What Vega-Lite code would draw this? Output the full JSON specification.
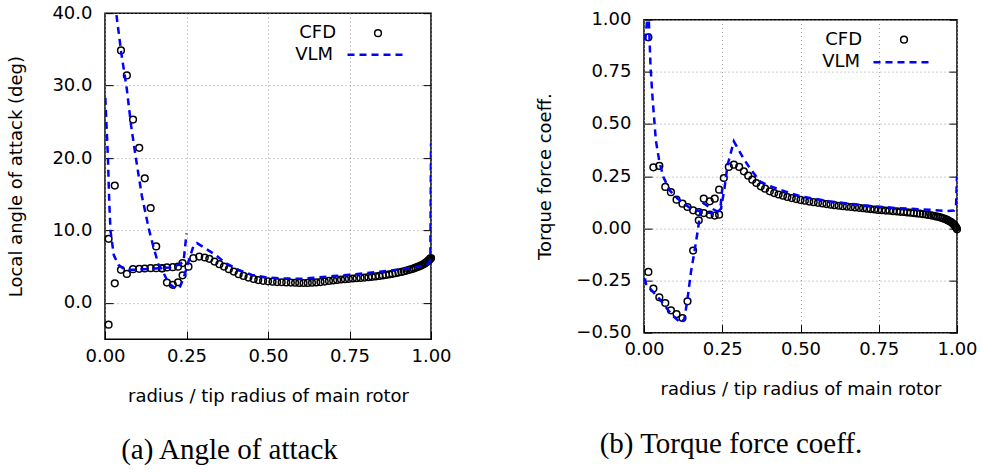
{
  "$schema": "https://vega.github.io/schema/vega-lite/v6.json",
  "background": "white",
  "padding": {"left": 7, "top": 3, "right": 5, "bottom": 5},
  "spacing": 84,
  "center": true,
  "datasets": {
    "aoa": [
      {"x":0.011,"y":-3.0,"s":"CFD","b":"C"},{"x":0.011,"y":8.85,"s":"CFD","b":"C"},
      {"x":0.030,"y":2.7,"s":"CFD","b":"C"},{"x":0.030,"y":16.2,"s":"CFD","b":"C"},
      {"x":0.049,"y":34.85,"s":"CFD","b":"C"},{"x":0.049,"y":4.56,"s":"CFD","b":"C"},
      {"x":0.067,"y":31.4,"s":"CFD","b":"C"},{"x":0.067,"y":4.0,"s":"CFD","b":"C"},
      {"x":0.086,"y":25.3,"s":"CFD","b":"C"},{"x":0.086,"y":4.65,"s":"CFD","b":"C"},
      {"x":0.105,"y":21.4,"s":"CFD","b":"C"},{"x":0.105,"y":4.7,"s":"CFD","b":"C"},
      {"x":0.122,"y":17.2,"s":"CFD","b":"C"},{"x":0.122,"y":4.75,"s":"CFD","b":"C"},
      {"x":0.140,"y":13.1,"s":"CFD","b":"C"},{"x":0.140,"y":4.8,"s":"CFD","b":"C"},
      {"x":0.157,"y":7.8,"s":"CFD","b":"C"},{"x":0.157,"y":4.8,"s":"CFD","b":"C"},
      {"x":0.175,"y":4.8,"s":"CFD","b":"C"},{"x":0.175,"y":4.75,"s":"CFD","b":"C"},
      {"x":0.190,"y":2.8,"s":"CFD","b":"C"},{"x":0.190,"y":4.9,"s":"CFD","b":"C"},
      {"x":0.208,"y":2.5,"s":"CFD","b":"C"},{"x":0.208,"y":4.93,"s":"CFD","b":"C"},
      {"x":0.224,"y":2.85,"s":"CFD","b":"C"},{"x":0.224,"y":5.0,"s":"CFD","b":"C"},
      {"x":0.238,"y":3.8,"s":"CFD","b":"C"},{"x":0.238,"y":5.5,"s":"CFD","b":"C"},
      {"x":0.256,"y":5.0,"s":"CFD","b":"C"},{"x":0.271,"y":6.17,"s":"CFD","b":"C"},
      {"x":0.289,"y":6.4,"s":"CFD","b":"C"},{"x":0.306,"y":6.27,"s":"CFD","b":"C"},
      {"x":0.320,"y":6.08,"s":"CFD","b":"C"},{"x":0.336,"y":5.7,"s":"CFD","b":"C"},
      {"x":0.351,"y":5.34,"s":"CFD","b":"C"},{"x":0.365,"y":5.02,"s":"CFD","b":"C"},
      {"x":0.380,"y":4.65,"s":"CFD","b":"C"},{"x":0.395,"y":4.33,"s":"CFD","b":"C"},
      {"x":0.410,"y":3.96,"s":"CFD","b":"C"},{"x":0.425,"y":3.73,"s":"CFD","b":"C"},
      {"x":0.440,"y":3.5,"s":"CFD","b":"C"},{"x":0.456,"y":3.3,"s":"CFD","b":"C"},
      {"x":0.470,"y":3.15,"s":"CFD","b":"C"},{"x":0.485,"y":3.05,"s":"CFD","b":"C"},
      {"x":0.500,"y":2.98,"s":"CFD","b":"C"},{"x":0.514,"y":2.93,"s":"CFD","b":"C"},
      {"x":0.528,"y":2.88,"s":"CFD","b":"C"},{"x":0.542,"y":2.85,"s":"CFD","b":"C"},
      {"x":0.556,"y":2.82,"s":"CFD","b":"C"},{"x":0.570,"y":2.8,"s":"CFD","b":"C"},
      {"x":0.583,"y":2.78,"s":"CFD","b":"C"},{"x":0.596,"y":2.76,"s":"CFD","b":"C"},
      {"x":0.609,"y":2.75,"s":"CFD","b":"C"},{"x":0.622,"y":2.76,"s":"CFD","b":"C"},
      {"x":0.635,"y":2.78,"s":"CFD","b":"C"},{"x":0.648,"y":2.82,"s":"CFD","b":"C"},
      {"x":0.661,"y":2.88,"s":"CFD","b":"C"},{"x":0.674,"y":2.95,"s":"CFD","b":"C"},
      {"x":0.687,"y":3.03,"s":"CFD","b":"C"},{"x":0.700,"y":3.1,"s":"CFD","b":"C"},
      {"x":0.712,"y":3.17,"s":"CFD","b":"C"},{"x":0.724,"y":3.23,"s":"CFD","b":"C"},
      {"x":0.736,"y":3.28,"s":"CFD","b":"C"},{"x":0.748,"y":3.33,"s":"CFD","b":"C"},
      {"x":0.760,"y":3.37,"s":"CFD","b":"C"},{"x":0.772,"y":3.41,"s":"CFD","b":"C"},
      {"x":0.784,"y":3.45,"s":"CFD","b":"C"},{"x":0.796,"y":3.5,"s":"CFD","b":"C"},
      {"x":0.808,"y":3.55,"s":"CFD","b":"C"},{"x":0.819,"y":3.6,"s":"CFD","b":"C"},
      {"x":0.830,"y":3.66,"s":"CFD","b":"C"},{"x":0.841,"y":3.72,"s":"CFD","b":"C"},
      {"x":0.852,"y":3.79,"s":"CFD","b":"C"},{"x":0.862,"y":3.86,"s":"CFD","b":"C"},
      {"x":0.872,"y":3.94,"s":"CFD","b":"C"},{"x":0.882,"y":4.02,"s":"CFD","b":"C"},
      {"x":0.891,"y":4.1,"s":"CFD","b":"C"},{"x":0.900,"y":4.19,"s":"CFD","b":"C"},
      {"x":0.909,"y":4.28,"s":"CFD","b":"C"},{"x":0.917,"y":4.37,"s":"CFD","b":"C"},
      {"x":0.925,"y":4.46,"s":"CFD","b":"C"},{"x":0.933,"y":4.56,"s":"CFD","b":"C"},
      {"x":0.940,"y":4.66,"s":"CFD","b":"C"},{"x":0.947,"y":4.76,"s":"CFD","b":"C"},
      {"x":0.953,"y":4.86,"s":"CFD","b":"C"},{"x":0.959,"y":4.96,"s":"CFD","b":"C"},
      {"x":0.965,"y":5.07,"s":"CFD","b":"C"},{"x":0.970,"y":5.18,"s":"CFD","b":"C"},
      {"x":0.975,"y":5.3,"s":"CFD","b":"C"},{"x":0.980,"y":5.42,"s":"CFD","b":"C"},
      {"x":0.984,"y":5.55,"s":"CFD","b":"C"},{"x":0.988,"y":5.68,"s":"CFD","b":"C"},
      {"x":0.991,"y":5.8,"s":"CFD","b":"C"},{"x":0.994,"y":5.92,"s":"CFD","b":"C"},
      {"x":0.996,"y":6.02,"s":"CFD","b":"C"},{"x":0.998,"y":6.1,"s":"CFD","b":"C"},
      {"x":1.0,"y":6.2,"s":"CFD","b":"C"},
      {"x":0.025,"y":48,"s":"VLM","b":"A"},{"x":0.035,"y":39.8,"s":"VLM","b":"A"},
      {"x":0.050,"y":34.5,"s":"VLM","b":"A"},{"x":0.067,"y":29.5,"s":"VLM","b":"A"},
      {"x":0.080,"y":24.5,"s":"VLM","b":"A"},{"x":0.093,"y":20.5,"s":"VLM","b":"A"},
      {"x":0.113,"y":14.8,"s":"VLM","b":"A"},{"x":0.134,"y":10.3,"s":"VLM","b":"A"},
      {"x":0.147,"y":8.0,"s":"VLM","b":"A"},{"x":0.164,"y":5.3,"s":"VLM","b":"A"},
      {"x":0.175,"y":4.6,"s":"VLM","b":"A"},{"x":0.195,"y":2.7,"s":"VLM","b":"A"},
      {"x":0.216,"y":2.0,"s":"VLM","b":"A"},{"x":0.228,"y":2.0,"s":"VLM","b":"A"},
      {"x":0.241,"y":3.4,"s":"VLM","b":"A"},{"x":0.256,"y":5.7,"s":"VLM","b":"A"},
      {"x":0.271,"y":7.8,"s":"VLM","b":"A"},{"x":0.282,"y":8.25,"s":"VLM","b":"A"},
      {"x":0.307,"y":7.55,"s":"VLM","b":"A"},{"x":0.340,"y":6.6,"s":"VLM","b":"A"},
      {"x":0.370,"y":5.5,"s":"VLM","b":"A"},{"x":0.410,"y":4.56,"s":"VLM","b":"A"},
      {"x":0.451,"y":3.87,"s":"VLM","b":"A"},{"x":0.492,"y":3.55,"s":"VLM","b":"A"},
      {"x":0.532,"y":3.4,"s":"VLM","b":"A"},{"x":0.573,"y":3.35,"s":"VLM","b":"A"},
      {"x":0.610,"y":3.35,"s":"VLM","b":"A"},{"x":0.650,"y":3.5,"s":"VLM","b":"A"},
      {"x":0.700,"y":3.7,"s":"VLM","b":"A"},{"x":0.750,"y":3.9,"s":"VLM","b":"A"},
      {"x":0.800,"y":4.1,"s":"VLM","b":"A"},{"x":0.850,"y":4.35,"s":"VLM","b":"A"},
      {"x":0.900,"y":4.6,"s":"VLM","b":"A"},{"x":0.950,"y":4.9,"s":"VLM","b":"A"},
      {"x":0.985,"y":5.2,"s":"VLM","b":"A"},{"x":0.995,"y":5.6,"s":"VLM","b":"A"},
      {"x":0.998,"y":6.0,"s":"VLM","b":"A"},{"x":1.0,"y":22.0,"s":"VLM","b":"A"},
      {"x":0.001,"y":28.3,"s":"VLM","b":"B"},{"x":0.009,"y":20.0,"s":"VLM","b":"B"},
      {"x":0.013,"y":14.0,"s":"VLM","b":"B"},{"x":0.017,"y":9.9,"s":"VLM","b":"B"},
      {"x":0.027,"y":6.6,"s":"VLM","b":"B"},{"x":0.041,"y":5.25,"s":"VLM","b":"B"},
      {"x":0.062,"y":4.56,"s":"VLM","b":"B"},{"x":0.100,"y":4.6,"s":"VLM","b":"B"},
      {"x":0.150,"y":4.75,"s":"VLM","b":"B"},{"x":0.200,"y":4.9,"s":"VLM","b":"B"},
      {"x":0.226,"y":5.25,"s":"VLM","b":"B"},{"x":0.241,"y":5.7,"s":"VLM","b":"B"},
      {"x":0.250,"y":9.6,"s":"VLM","b":"B"}
    ],
    "tq": [
      {"x":0.014,"y":0.915,"s":"CFD","b":"C"},{"x":0.014,"y":-0.209,"s":"CFD","b":"C"},
      {"x":0.030,"y":0.292,"s":"CFD","b":"C"},{"x":0.030,"y":-0.289,"s":"CFD","b":"C"},
      {"x":0.049,"y":0.299,"s":"CFD","b":"C"},{"x":0.049,"y":-0.331,"s":"CFD","b":"C"},
      {"x":0.068,"y":0.198,"s":"CFD","b":"C"},{"x":0.068,"y":-0.358,"s":"CFD","b":"C"},
      {"x":0.086,"y":0.173,"s":"CFD","b":"C"},{"x":0.086,"y":-0.393,"s":"CFD","b":"C"},
      {"x":0.104,"y":0.137,"s":"CFD","b":"C"},{"x":0.104,"y":-0.411,"s":"CFD","b":"C"},
      {"x":0.123,"y":0.118,"s":"CFD","b":"C"},{"x":0.123,"y":-0.430,"s":"CFD","b":"C"},
      {"x":0.139,"y":0.102,"s":"CFD","b":"C"},{"x":0.139,"y":-0.350,"s":"CFD","b":"C"},
      {"x":0.157,"y":0.086,"s":"CFD","b":"C"},{"x":0.157,"y":-0.107,"s":"CFD","b":"C"},
      {"x":0.175,"y":0.078,"s":"CFD","b":"C"},{"x":0.175,"y":0.038,"s":"CFD","b":"C"},
      {"x":0.191,"y":0.073,"s":"CFD","b":"C"},{"x":0.191,"y":0.142,"s":"CFD","b":"C"},
      {"x":0.210,"y":0.065,"s":"CFD","b":"C"},{"x":0.210,"y":0.129,"s":"CFD","b":"C"},
      {"x":0.226,"y":0.061,"s":"CFD","b":"C"},{"x":0.226,"y":0.142,"s":"CFD","b":"C"},
      {"x":0.240,"y":0.065,"s":"CFD","b":"C"},{"x":0.240,"y":0.185,"s":"CFD","b":"C"},
      {"x":0.255,"y":0.241,"s":"CFD","b":"C"},{"x":0.271,"y":0.294,"s":"CFD","b":"C"},
      {"x":0.287,"y":0.305,"s":"CFD","b":"C"},{"x":0.304,"y":0.294,"s":"CFD","b":"C"},
      {"x":0.319,"y":0.273,"s":"CFD","b":"C"},{"x":0.333,"y":0.252,"s":"CFD","b":"C"},
      {"x":0.346,"y":0.233,"s":"CFD","b":"C"},{"x":0.359,"y":0.217,"s":"CFD","b":"C"},
      {"x":0.373,"y":0.201,"s":"CFD","b":"C"},{"x":0.387,"y":0.19,"s":"CFD","b":"C"},
      {"x":0.402,"y":0.177,"s":"CFD","b":"C"},{"x":0.416,"y":0.169,"s":"CFD","b":"C"},
      {"x":0.430,"y":0.162,"s":"CFD","b":"C"},{"x":0.444,"y":0.156,"s":"CFD","b":"C"},
      {"x":0.458,"y":0.15,"s":"CFD","b":"C"},{"x":0.472,"y":0.145,"s":"CFD","b":"C"},
      {"x":0.486,"y":0.14,"s":"CFD","b":"C"},{"x":0.500,"y":0.136,"s":"CFD","b":"C"},
      {"x":0.514,"y":0.132,"s":"CFD","b":"C"},{"x":0.528,"y":0.128,"s":"CFD","b":"C"},
      {"x":0.542,"y":0.125,"s":"CFD","b":"C"},{"x":0.556,"y":0.122,"s":"CFD","b":"C"},
      {"x":0.570,"y":0.119,"s":"CFD","b":"C"},{"x":0.583,"y":0.116,"s":"CFD","b":"C"},
      {"x":0.596,"y":0.113,"s":"CFD","b":"C"},{"x":0.609,"y":0.111,"s":"CFD","b":"C"},
      {"x":0.622,"y":0.108,"s":"CFD","b":"C"},{"x":0.635,"y":0.106,"s":"CFD","b":"C"},
      {"x":0.648,"y":0.104,"s":"CFD","b":"C"},{"x":0.661,"y":0.102,"s":"CFD","b":"C"},
      {"x":0.674,"y":0.1,"s":"CFD","b":"C"},{"x":0.687,"y":0.098,"s":"CFD","b":"C"},
      {"x":0.700,"y":0.096,"s":"CFD","b":"C"},{"x":0.712,"y":0.094,"s":"CFD","b":"C"},
      {"x":0.724,"y":0.092,"s":"CFD","b":"C"},{"x":0.736,"y":0.09,"s":"CFD","b":"C"},
      {"x":0.748,"y":0.088,"s":"CFD","b":"C"},{"x":0.760,"y":0.087,"s":"CFD","b":"C"},
      {"x":0.772,"y":0.085,"s":"CFD","b":"C"},{"x":0.784,"y":0.084,"s":"CFD","b":"C"},
      {"x":0.796,"y":0.082,"s":"CFD","b":"C"},{"x":0.808,"y":0.081,"s":"CFD","b":"C"},
      {"x":0.819,"y":0.079,"s":"CFD","b":"C"},{"x":0.830,"y":0.078,"s":"CFD","b":"C"},
      {"x":0.841,"y":0.076,"s":"CFD","b":"C"},{"x":0.852,"y":0.075,"s":"CFD","b":"C"},
      {"x":0.862,"y":0.073,"s":"CFD","b":"C"},{"x":0.872,"y":0.071,"s":"CFD","b":"C"},
      {"x":0.882,"y":0.07,"s":"CFD","b":"C"},{"x":0.891,"y":0.068,"s":"CFD","b":"C"},
      {"x":0.900,"y":0.066,"s":"CFD","b":"C"},{"x":0.909,"y":0.064,"s":"CFD","b":"C"},
      {"x":0.917,"y":0.062,"s":"CFD","b":"C"},{"x":0.925,"y":0.06,"s":"CFD","b":"C"},
      {"x":0.933,"y":0.057,"s":"CFD","b":"C"},{"x":0.940,"y":0.055,"s":"CFD","b":"C"},
      {"x":0.947,"y":0.052,"s":"CFD","b":"C"},{"x":0.953,"y":0.049,"s":"CFD","b":"C"},
      {"x":0.959,"y":0.046,"s":"CFD","b":"C"},{"x":0.965,"y":0.043,"s":"CFD","b":"C"},
      {"x":0.970,"y":0.039,"s":"CFD","b":"C"},{"x":0.975,"y":0.035,"s":"CFD","b":"C"},
      {"x":0.980,"y":0.031,"s":"CFD","b":"C"},{"x":0.984,"y":0.026,"s":"CFD","b":"C"},
      {"x":0.988,"y":0.021,"s":"CFD","b":"C"},{"x":0.991,"y":0.016,"s":"CFD","b":"C"},
      {"x":0.994,"y":0.011,"s":"CFD","b":"C"},{"x":0.996,"y":0.006,"s":"CFD","b":"C"},
      {"x":0.998,"y":0.002,"s":"CFD","b":"C"},{"x":1.0,"y":-0.005,"s":"CFD","b":"C"},
      {"x":0.004,"y":0.9,"s":"VLM","b":"A"},{"x":0.014,"y":1.06,"s":"VLM","b":"A"},
      {"x":0.021,"y":0.77,"s":"VLM","b":"A"},{"x":0.028,"y":0.61,"s":"VLM","b":"A"},
      {"x":0.038,"y":0.42,"s":"VLM","b":"A"},{"x":0.049,"y":0.32,"s":"VLM","b":"A"},
      {"x":0.062,"y":0.245,"s":"VLM","b":"A"},{"x":0.083,"y":0.18,"s":"VLM","b":"A"},
      {"x":0.107,"y":0.142,"s":"VLM","b":"A"},{"x":0.150,"y":0.094,"s":"VLM","b":"A"},
      {"x":0.187,"y":0.078,"s":"VLM","b":"A"},{"x":0.230,"y":0.07,"s":"VLM","b":"A"},
      {"x":0.246,"y":0.094,"s":"VLM","b":"A"},{"x":0.257,"y":0.19,"s":"VLM","b":"A"},
      {"x":0.267,"y":0.303,"s":"VLM","b":"A"},{"x":0.287,"y":0.417,"s":"VLM","b":"A"},
      {"x":0.317,"y":0.337,"s":"VLM","b":"A"},{"x":0.338,"y":0.289,"s":"VLM","b":"A"},
      {"x":0.370,"y":0.225,"s":"VLM","b":"A"},{"x":0.391,"y":0.209,"s":"VLM","b":"A"},
      {"x":0.434,"y":0.185,"s":"VLM","b":"A"},{"x":0.500,"y":0.153,"s":"VLM","b":"A"},
      {"x":0.593,"y":0.129,"s":"VLM","b":"A"},{"x":0.699,"y":0.11,"s":"VLM","b":"A"},
      {"x":0.806,"y":0.097,"s":"VLM","b":"A"},{"x":0.912,"y":0.089,"s":"VLM","b":"A"},
      {"x":0.965,"y":0.083,"s":"VLM","b":"A"},{"x":0.990,"y":0.085,"s":"VLM","b":"A"},
      {"x":0.997,"y":0.11,"s":"VLM","b":"A"},{"x":1.0,"y":0.249,"s":"VLM","b":"A"},
      {"x":0.003,"y":-0.24,"s":"VLM","b":"B"},{"x":0.006,"y":-0.266,"s":"VLM","b":"B"},
      {"x":0.049,"y":-0.338,"s":"VLM","b":"B"},{"x":0.091,"y":-0.418,"s":"VLM","b":"B"},
      {"x":0.118,"y":-0.454,"s":"VLM","b":"B"},{"x":0.129,"y":-0.435,"s":"VLM","b":"B"},
      {"x":0.139,"y":-0.338,"s":"VLM","b":"B"},{"x":0.150,"y":-0.21,"s":"VLM","b":"B"},
      {"x":0.161,"y":-0.114,"s":"VLM","b":"B"},{"x":0.171,"y":-0.018,"s":"VLM","b":"B"},
      {"x":0.182,"y":0.094,"s":"VLM","b":"B"},{"x":0.190,"y":0.12,"s":"VLM","b":"B"},
      {"x":0.210,"y":0.1,"s":"VLM","b":"B"},{"x":0.235,"y":0.08,"s":"VLM","b":"B"},
      {"x":0.245,"y":0.11,"s":"VLM","b":"B"},{"x":0.250,"y":0.19,"s":"VLM","b":"B"}
    ]
  },
  "hconcat": [
    {
      "width": 326, "height": 326,
      "data": {"name": "aoa"},
      "title": {"text": "(a) Angle of attack", "orient": "bottom", "anchor": "middle", "frame": "bounds", "offset": 31, "font": "Liberation Serif", "fontSize": 29, "fontWeight": "normal", "color": "#000"},
      "layer": [
        {
          "transform": [{"filter": "datum.s === 'CFD'"}],
          "mark": {"type": "point", "filled": false, "size": 45, "strokeWidth": 1.5, "opacity": 1, "color": "#000000"},
          "encoding": {
            "x": {"field": "x", "type": "quantitative", "scale": {"domain": [0, 1], "nice": false, "zero": false},
                  "axis": {"values": [0, 0.25, 0.5, 0.75, 1], "format": ".2f", "title": "radius / tip radius of main rotor", "titlePadding": 22}},
            "y": {"field": "y", "type": "quantitative", "scale": {"domain": [-5, 40], "nice": false, "zero": false},
                  "axis": {"orient": "left", "values": [0, 10, 20, 30, 40], "format": ".1f", "title": "Local angle of attack (deg)", "titlePadding": 26}},
            "shape": {"field": "s", "type": "nominal", "scale": {"domain": ["CFD"], "range": ["circle"]},
                      "legend": {"orient": "none", "legendX": 264, "legendY": 11, "title": null, "padding": 0,
                                 "labelAlign": "right", "labelOffset": -51, "labelFontSize": 18, "labelFont": "DejaVu Sans", "labelColor": "#000",
                                 "symbolSize": 45, "symbolStrokeWidth": 1.5, "symbolStrokeColor": "#000000", "symbolFillColor": "transparent"}}
          }
        },
        {
          "transform": [{"filter": "datum.s === 'VLM'"}],
          "mark": {"type": "line", "clip": true, "strokeWidth": 2.5, "color": "#0000ff"},
          "encoding": {
            "x": {"field": "x", "type": "quantitative"},
            "y": {"field": "y", "type": "quantitative",
                  "axis": {"orient": "right", "values": [0, 10, 20, 30, 40], "labels": false, "title": null, "grid": false}},
            "strokeDash": {"field": "s", "type": "nominal", "scale": {"domain": ["VLM"], "range": [[7, 5]]},
                           "legend": {"orient": "none", "legendX": 241, "legendY": 11, "title": null, "padding": 0,
                                      "labelAlign": "right", "labelOffset": -74, "labelFontSize": 18, "labelFont": "DejaVu Sans", "labelColor": "#000",
                                      "symbolType": "stroke", "symbolSize": 3364, "symbolStrokeWidth": 2.5, "symbolStrokeColor": "#0000ff"}},
            "detail": {"field": "b", "type": "nominal"}
          }
        }
      ],
      "resolve": {"axis": {"y": "independent"}}
    },
    {
      "width": 313, "height": 313,
      "data": {"name": "tq"},
      "title": {"text": "(b) Torque force coeff.", "orient": "bottom", "anchor": "middle", "frame": "bounds", "offset": 31, "dx": -26, "font": "Liberation Serif", "fontSize": 29, "fontWeight": "normal", "color": "#000"},
      "layer": [
        {
          "transform": [{"filter": "datum.s === 'CFD'"}],
          "mark": {"type": "point", "filled": false, "size": 45, "strokeWidth": 1.5, "opacity": 1, "color": "#000000"},
          "encoding": {
            "x": {"field": "x", "type": "quantitative", "scale": {"domain": [0, 1], "nice": false, "zero": false},
                  "axis": {"values": [0, 0.25, 0.5, 0.75, 1], "format": ".2f", "title": "radius / tip radius of main rotor", "titlePadding": 22}},
            "y": {"field": "y", "type": "quantitative", "scale": {"domain": [-0.5, 1], "nice": false, "zero": false},
                  "axis": {"orient": "left", "values": [-0.5, -0.25, 0, 0.25, 0.5, 0.75, 1], "format": ".2f", "title": "Torque force coeff.", "titlePadding": 21}},
            "shape": {"field": "s", "type": "nominal", "scale": {"domain": ["CFD"], "range": ["circle"]},
                      "legend": {"orient": "none", "legendX": 251, "legendY": 11, "title": null, "padding": 0,
                                 "labelAlign": "right", "labelOffset": -51, "labelFontSize": 18, "labelFont": "DejaVu Sans", "labelColor": "#000",
                                 "symbolSize": 45, "symbolStrokeWidth": 1.5, "symbolStrokeColor": "#000000", "symbolFillColor": "transparent"}}
          }
        },
        {
          "transform": [{"filter": "datum.s === 'VLM'"}],
          "mark": {"type": "line", "clip": true, "strokeWidth": 2.5, "color": "#0000ff"},
          "encoding": {
            "x": {"field": "x", "type": "quantitative"},
            "y": {"field": "y", "type": "quantitative",
                  "axis": {"orient": "right", "values": [-0.5, -0.25, 0, 0.25, 0.5, 0.75, 1], "labels": false, "title": null, "grid": false}},
            "strokeDash": {"field": "s", "type": "nominal", "scale": {"domain": ["VLM"], "range": [[7, 5]]},
                           "legend": {"orient": "none", "legendX": 228, "legendY": 12, "title": null, "padding": 0,
                                      "labelAlign": "right", "labelOffset": -73, "labelFontSize": 18, "labelFont": "DejaVu Sans", "labelColor": "#000",
                                      "symbolType": "stroke", "symbolSize": 3364, "symbolStrokeWidth": 2.5, "symbolStrokeColor": "#0000ff"}},
            "detail": {"field": "b", "type": "nominal"}
          }
        }
      ],
      "resolve": {"axis": {"y": "independent"}}
    }
  ],
  "resolve": {"scale": {"shape": "independent", "strokeDash": "independent"}, "legend": {"shape": "independent", "strokeDash": "independent"}},
  "config": {
    "font": "DejaVu Sans",
    "view": {"stroke": "#000000", "strokeWidth": 1.5},
    "axis": {
      "domain": false, "grid": true, "gridColor": "#999999", "gridDash": [1, 3], "gridWidth": 1,
      "ticks": true, "tickSize": -8, "tickColor": "#000000", "tickWidth": 1,
      "labelFontSize": 18, "labelColor": "#000000", "labelPadding": 21, "labelFlush": false, "labelOverlap": false,
      "titleFontSize": 18, "titleFontWeight": "normal", "titleColor": "#000000"
    },
    "axisX": {"labelPadding": 16},
    "legend": {"labelLimit": 0}
  }
}
